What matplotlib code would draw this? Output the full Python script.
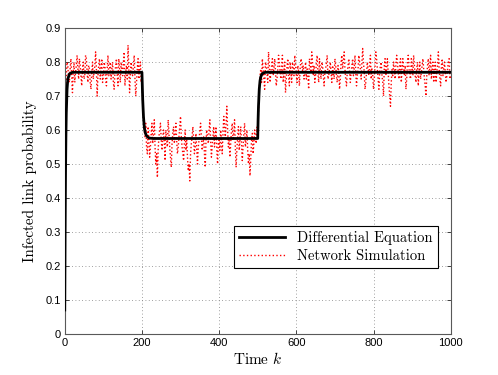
import numpy as np
import matplotlib
matplotlib.use("Agg")
import matplotlib.pyplot as plt

# Differential equation (smooth curve) - key points
de_k = [0, 1, 2, 3, 4, 6, 8, 12, 20, 200, 201, 202, 204, 206, 208, 211, 215, 220, 230, 500,
        501, 502, 504, 506, 508, 511, 515, 520, 1000]
de_v = [0.07, 0.30, 0.47, 0.58, 0.65, 0.72, 0.75, 0.765, 0.77, 0.77, 0.73, 0.69, 0.64, 0.61,
        0.595, 0.585, 0.579, 0.576, 0.575, 0.575, 0.63, 0.67, 0.72, 0.745, 0.757, 0.765, 0.768,
        0.77, 0.77]

# Network simulation, sampled every 2 time steps (k = 0, 2, ..., 1000)
sim_step = 2
sim_a = [0.52, 0.68, 0.76, 0.80, 0.79, 0.75, 0.74, 0.78, 0.81, 0.76, 0.71, 0.77, 0.80, 0.74, 0.77, 0.79, 0.82, 0.78, 0.75, 0.81,
         0.79, 0.76, 0.73, 0.78, 0.80, 0.75, 0.76, 0.82, 0.81, 0.77, 0.74, 0.79, 0.78, 0.74, 0.72, 0.77, 0.80, 0.75, 0.77, 0.79,
         0.83, 0.78, 0.70, 0.76, 0.79, 0.81, 0.75, 0.78, 0.81, 0.74, 0.76, 0.80, 0.79, 0.75, 0.73, 0.78, 0.82, 0.76, 0.77, 0.80,
         0.75, 0.78, 0.80, 0.74, 0.72, 0.77, 0.79, 0.81, 0.76, 0.73, 0.81, 0.78, 0.74, 0.80, 0.78, 0.76, 0.80, 0.83, 0.73, 0.77,
         0.79, 0.75, 0.85, 0.78, 0.71, 0.76, 0.80, 0.77, 0.76, 0.79, 0.82, 0.75, 0.70, 0.74, 0.78, 0.81, 0.75, 0.78, 0.80, 0.74,
         0.76]
sim_b = [0.68, 0.64, 0.60, 0.58, 0.62, 0.55, 0.53, 0.61, 0.57, 0.52, 0.55, 0.59, 0.62, 0.56, 0.59, 0.63, 0.55, 0.50, 0.53, 0.46,
         0.54, 0.58, 0.60, 0.62, 0.57, 0.54, 0.58, 0.60, 0.56, 0.51, 0.60, 0.57, 0.55, 0.63, 0.59, 0.55, 0.52, 0.49, 0.56, 0.59,
         0.61, 0.56, 0.59, 0.62, 0.57, 0.53, 0.55, 0.58, 0.61, 0.64, 0.58, 0.55, 0.53, 0.51, 0.56, 0.60, 0.54, 0.57, 0.52, 0.48,
         0.50, 0.45, 0.53, 0.56, 0.58, 0.61, 0.57, 0.53, 0.55, 0.59, 0.54, 0.50, 0.55, 0.57, 0.60, 0.62, 0.58, 0.54, 0.56, 0.58,
         0.53, 0.49, 0.57, 0.60, 0.58, 0.56, 0.60, 0.63, 0.57, 0.52, 0.55, 0.58, 0.61, 0.55, 0.58, 0.61, 0.54, 0.50, 0.56, 0.57,
         0.54, 0.60, 0.57, 0.53, 0.59, 0.64, 0.61, 0.58, 0.62, 0.67, 0.60, 0.55, 0.57, 0.52, 0.56, 0.60, 0.62, 0.57, 0.59, 0.63,
         0.55, 0.49, 0.54, 0.58, 0.61, 0.54, 0.57, 0.61, 0.56, 0.51, 0.55, 0.59, 0.62, 0.55, 0.57, 0.60, 0.54, 0.50, 0.53, 0.465,
         0.52, 0.57, 0.59, 0.53, 0.56, 0.60, 0.58, 0.56, 0.61, 0.58]
sim_c = [0.66, 0.72, 0.76, 0.78, 0.74, 0.81, 0.78, 0.75, 0.72, 0.80, 0.79, 0.77, 0.74, 0.83, 0.79, 0.74, 0.77, 0.79, 0.81, 0.76,
         0.78, 0.81, 0.77, 0.73, 0.75, 0.78, 0.82, 0.80, 0.77, 0.75, 0.79, 0.82, 0.74, 0.77, 0.80, 0.71, 0.75, 0.79, 0.81, 0.76,
         0.73, 0.80, 0.77, 0.74, 0.80, 0.78, 0.76, 0.82, 0.79, 0.76, 0.74, 0.79, 0.77, 0.73, 0.78, 0.81, 0.80, 0.77, 0.79, 0.75,
         0.77, 0.80, 0.75, 0.78, 0.76, 0.72, 0.81, 0.79, 0.77, 0.83, 0.80, 0.76, 0.79, 0.74, 0.76, 0.80, 0.82, 0.77, 0.74, 0.81,
         0.78, 0.75, 0.80, 0.79, 0.76, 0.73, 0.77, 0.78, 0.80, 0.82, 0.75, 0.76, 0.78, 0.80, 0.77, 0.74, 0.79, 0.77, 0.75, 0.81,
         0.79, 0.76, 0.74, 0.79, 0.77, 0.72, 0.75, 0.80, 0.82, 0.78, 0.80, 0.83, 0.78, 0.75, 0.73, 0.77, 0.79, 0.81, 0.77, 0.74,
         0.77, 0.79, 0.81, 0.76, 0.78, 0.82, 0.77, 0.73, 0.76, 0.78, 0.82, 0.80, 0.78, 0.75, 0.80, 0.84, 0.80, 0.77, 0.72, 0.74,
         0.77, 0.80, 0.78, 0.76, 0.79, 0.82, 0.75, 0.78, 0.76, 0.72, 0.75, 0.79, 0.83, 0.81, 0.78, 0.75, 0.72, 0.77, 0.79, 0.80,
         0.76, 0.74, 0.70, 0.79, 0.81, 0.76, 0.78, 0.81, 0.77, 0.73, 0.70, 0.67, 0.74, 0.78, 0.76, 0.80, 0.78, 0.75, 0.79, 0.82,
         0.80, 0.77, 0.75, 0.79, 0.81, 0.74, 0.78, 0.81, 0.78, 0.76, 0.79, 0.72, 0.75, 0.80, 0.82, 0.78, 0.76, 0.75, 0.81, 0.79,
         0.76, 0.82, 0.79, 0.76, 0.74, 0.78, 0.80, 0.73, 0.77, 0.80, 0.75, 0.77, 0.79, 0.81, 0.78, 0.75, 0.73, 0.70, 0.76, 0.79,
         0.81, 0.76, 0.79, 0.82, 0.75, 0.78, 0.80, 0.74, 0.77, 0.80, 0.74, 0.77, 0.79, 0.83, 0.78, 0.75, 0.73, 0.79, 0.81, 0.76,
         0.78, 0.80, 0.77, 0.74, 0.76, 0.78, 0.80, 0.81, 0.75, 0.76]
sim_v = sim_a + sim_b + sim_c
sim_k = np.arange(len(sim_v)) * sim_step

x_ticks = [0, 200, 400, 600, 800, 1000]
y_ticks = [0, 0.1, 0.2, 0.3, 0.4, 0.5, 0.6, 0.7, 0.8, 0.9]
y_tick_labels = ["0", "0.1", "0.2", "0.3", "0.4", "0.5", "0.6", "0.7", "0.8", "0.9"]

plt.rcParams['mathtext.fontset'] = 'cm'
serif = 'cmr10'

fig = plt.figure(figsize=(4.98, 3.75), dpi=100)
ax = fig.add_axes([0.13, 0.11, 0.775, 0.815])

ax.plot(sim_k, sim_v, linestyle=':', color='red', linewidth=1.0, zorder=2,
        label='Network Simulation')
ax.plot(de_k, de_v, linestyle='-', color='black', linewidth=2.0, zorder=3,
        label='Differential Equation')

ax.set_xlim(0, 1000)
ax.set_ylim(0, 0.9)
ax.set_xticks(x_ticks)
ax.set_yticks(y_ticks)
ax.set_yticklabels(y_tick_labels)
ax.tick_params(direction='in', top=True, right=True, length=3, width=0.6,
               labelsize=8, colors='0.15', labelcolor='black', pad=3)
for lab in ax.get_xticklabels() + ax.get_yticklabels():
    lab.set_family('Liberation Sans')
ax.grid(True, linestyle=(0, (1, 3)), color='0.5', linewidth=0.6)
for s in ax.spines.values():
    s.set_color('0.35')
    s.set_linewidth(0.8)

ax.set_xlabel(r'Time $k$', fontsize=11, family=serif, labelpad=2)
ax.set_ylabel('Infected link probability', fontsize=11, family=serif, labelpad=6)

handles, labels = ax.get_legend_handles_labels()
leg = ax.legend(handles[::-1], labels[::-1], loc='lower right',
                bbox_to_anchor=(0.985, 0.19), frameon=True,
                fancybox=False, edgecolor='black', framealpha=1,
                handlelength=3.2, borderpad=0.35, labelspacing=0.3,
                prop={'family': serif, 'size': 10.5})
leg.get_frame().set_linewidth(0.8)

fig.savefig('out.png', dpi=100)
